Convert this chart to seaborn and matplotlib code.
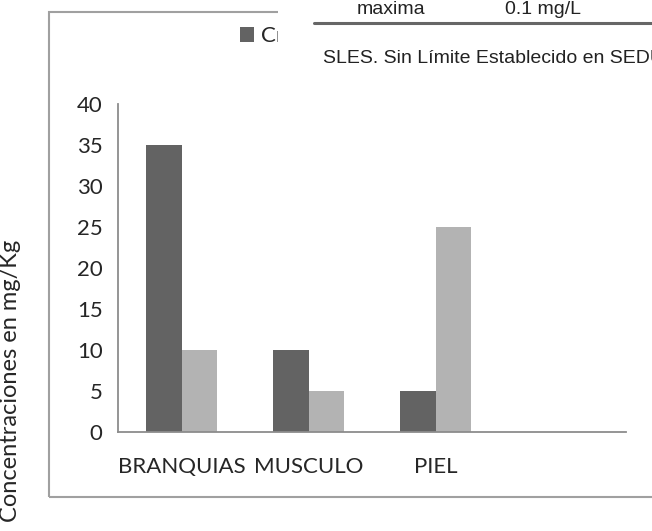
import pandas as pd
import matplotlib.pyplot as plt
import seaborn as sns
from matplotlib.patches import Rectangle
from matplotlib.lines import Line2D

# Data
tejidos = ['BRANQUIAS', 'MUSCULO', 'PIEL', '']
cr = [35, 10, 5, None]
pb = [10, 5, 25, None]
series = ['Cr', 'Pb']
y_ticks = [0, 5, 10, 15, 20, 25, 30, 35, 40]

df = pd.DataFrame({
    'tejido': tejidos * 2,
    'metal': [series[0]] * 4 + [series[1]] * 4,
    'conc': cr + pb,
})

sns.set_style('white')
plt.rcParams['font.family'] = ['Lato', 'DejaVu Sans']

fig = plt.figure(figsize=(6.52, 5.31), dpi=100)
ax = fig.add_axes([118 / 652, 1 - 432 / 531, 508 / 652, 328 / 531])

sns.barplot(data=df, x='tejido', y='conc', hue='metal', order=tejidos,
            palette=['#636363', '#b3b3b3'], width=0.56, gap=0,
            saturation=1, linewidth=0, ax=ax)

ax.set_xlim(-0.5, 3.5)
ax.set_ylim(0, 40)
ax.set_yticks(y_ticks)
ax.tick_params(length=0, labelsize=16)
ax.tick_params(axis='y', pad=11)
ax.tick_params(axis='x', pad=18)
ax.set_xlabel('')
for side in ['top', 'right']:
    ax.spines[side].set_visible(False)
for side in ['left', 'bottom']:
    ax.spines[side].set_color('#8c8c8c')
    ax.spines[side].set_linewidth(1.3)

ax.set_ylabel('Concentraciones en mg/Kg', fontsize=17)
ax.yaxis.set_label_coords(21 / 652, 1 - 381 / 531, transform=fig.transFigure)

sns.move_legend(ax, loc='center left', bbox_to_anchor=(240 / 652, 1 - 36 / 531),
                bbox_transform=fig.transFigure, ncol=2, frameon=False, title=None,
                fontsize=16, handlelength=0.65, handleheight=0.65,
                handletextpad=0.3, borderpad=0, borderaxespad=0)

# outer chart frame
fig.add_artist(Rectangle((49 / 652, 1 - 497 / 531), 1.2, 485 / 531,
                         transform=fig.transFigure, fill=False,
                         edgecolor='#a0a0a0', lw=1.5, zorder=1))

# pasted table fragment covering the top right
fig.add_artist(Rectangle((278 / 652, 1 - 95 / 531), 1, 0.5,
                         transform=fig.transFigure, facecolor='white',
                         edgecolor='none', zorder=10))
fig.add_artist(Line2D([314 / 652, 1], [1 - 23 / 531, 1 - 23 / 531],
                      transform=fig.transFigure, color='#666666', lw=2.2, zorder=11))
fig.text(357 / 652, 1 - 14 / 531, 'maxima', fontsize=14, family='Liberation Sans',
         color='#222222', va='baseline', zorder=12)
fig.text(505 / 652, 1 - 14 / 531, '0.1 mg/L', fontsize=14, family='Liberation Sans',
         color='#222222', va='baseline', zorder=12)
fig.text(323 / 652, 1 - 63 / 531, 'SLES. Sin Límite Establecido en SEDUE', fontsize=14,
         family='Liberation Sans', color='#222222', va='baseline', zorder=12)

fig.savefig('out.png', dpi=100)
